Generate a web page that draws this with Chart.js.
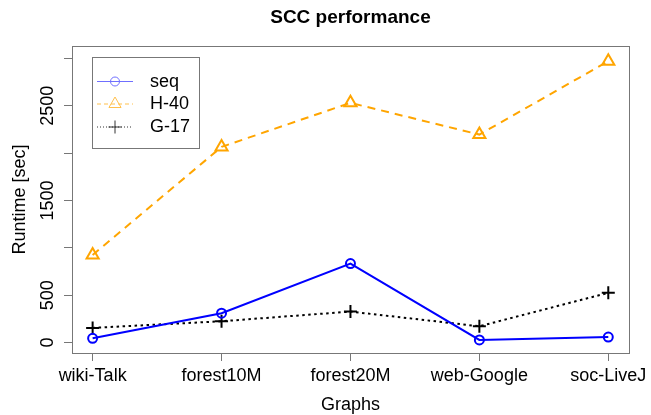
<!DOCTYPE html>
<html><head><meta charset="utf-8">
<script src="https://cdn.jsdelivr.net/npm/chart.js@4.4.1/dist/chart.umd.min.js"></script>
<style>html,body{margin:0;padding:0;background:#fff}#wrap{width:651px;height:415px}</style>
</head><body><div id="wrap"><canvas id="c" width="651" height="415"></canvas></div>
<script>
// SCC runtime (seconds) per input graph
const categories = ['wiki-Talk', 'forest10M', 'forest20M', 'web-Google', 'soc-LiveJ'];
const seqRuntime = [45, 310, 834, 28, 58];
const h40Runtime = [925, 2065, 2530, 2195, 2970];
const g17Runtime = [155, 225, 327, 172, 525];
const yTickValues = [0, 500, 1000, 1500, 2000, 2500, 3000];
const yTickLabels = ['0', '500', '', '1500', '', '2500', ''];
const seriesNames = ['seq', 'H-40', 'G-17'];

const FONT = '"Liberation Sans", Arial, Helvetica, sans-serif';
const AXIS_GRAY = '#777777';

function toPoints(values) {
  return values.map((v, i) => ({ x: i + 1, y: v }));
}

const styles = [
  { color: '#0000ff', dash: [], pointStyle: 'circle', radius: 4.5, legendColor: '#6f6fff' },
  { color: '#ffa500', dash: [8, 6], pointStyle: 'triangle', radius: 7, legendColor: '#ffc04d' },
  { color: '#000000', dash: [2.5, 3.5], pointStyle: 'cross', radius: 6.5, legendColor: '#333333' }
];
const seriesValues = [seqRuntime, h40Runtime, g17Runtime];

const datasets = seriesValues.map((vals, k) => ({
  label: seriesNames[k],
  data: toPoints(vals),
  borderColor: styles[k].color,
  backgroundColor: 'rgba(0,0,0,0)',
  borderWidth: 2,
  borderDash: styles[k].dash,
  pointStyle: styles[k].pointStyle,
  pointRadius: styles[k].radius,
  pointHoverRadius: styles[k].radius,
  pointBorderWidth: 2,
  pointBorderColor: styles[k].color,
  pointBackgroundColor: 'rgba(0,0,0,0)',
  tension: 0,
  fill: false
}));

// Frame, title, axis titles, rotated y labels and the legend box
const decorations = {
  id: 'decorations',
  afterDraw(chart) {
    const ctx = chart.ctx;
    const a = chart.chartArea;
    const yScale = chart.scales.y;
    ctx.save();
    // plot frame
    ctx.strokeStyle = AXIS_GRAY;
    ctx.lineWidth = 1;
    ctx.setLineDash([]);
    ctx.strokeRect(Math.round(a.left) + 0.5, Math.round(a.top) + 0.5,
      Math.round(a.right - a.left), Math.round(a.bottom - a.top));

    // title
    const cx = (a.left + a.right) / 2;
    ctx.fillStyle = '#000';
    ctx.textAlign = 'center';
    ctx.textBaseline = 'alphabetic';
    ctx.font = 'bold 19px ' + FONT;
    ctx.fillText('SCC performance', cx, 22.5);

    // x axis title
    ctx.font = '18px ' + FONT;
    ctx.fillText('Graphs', cx, 410);

    // y tick labels, rotated like the axis title
    yTickValues.forEach((v, i) => {
      const lbl = yTickLabels[i];
      if (!lbl) return;
      const py = yScale.getPixelForValue(v);
      ctx.save();
      ctx.translate(53, py);
      ctx.rotate(-Math.PI / 2);
      ctx.textAlign = 'center';
      ctx.fillText(lbl, 0, 0);
      ctx.restore();
    });

    // y axis title
    ctx.save();
    ctx.translate(25, (a.top + a.bottom) / 2);
    ctx.rotate(-Math.PI / 2);
    ctx.textAlign = 'center';
    ctx.fillText('Runtime [sec]', 0, 0);
    ctx.restore();

    // legend
    const lx = 92.5, ly = 57.5, lw = 107, lh = 91;
    ctx.strokeStyle = AXIS_GRAY;
    ctx.lineWidth = 1;
    ctx.strokeRect(lx, ly, lw, lh);
    const rowY = [81, 103.5, 126.5];
    seriesNames.forEach((name, k) => {
      const y = rowY[k];
      const st = styles[k];
      ctx.strokeStyle = st.legendColor;
      ctx.lineWidth = 1;
      ctx.setLineDash(k === 1 ? [4, 3] : (k === 2 ? [1, 2] : []));
      ctx.beginPath();
      ctx.moveTo(97, y + 0.5);
      ctx.lineTo(133, y + 0.5);
      ctx.stroke();
      ctx.setLineDash([]);
      ctx.fillStyle = 'rgba(0,0,0,0)';
      ctx.strokeStyle = st.legendColor;
      Chart.helpers.drawPoint(ctx, {
        pointStyle: st.pointStyle,
        radius: st.radius,
        rotation: 0,
        borderWidth: 1
      }, 115, y + 0.5);
      ctx.fillStyle = '#000';
      ctx.textAlign = 'left';
      ctx.textBaseline = 'middle';
      ctx.font = '18px ' + FONT;
      ctx.fillText(name, 150, y + 1);
    });
    ctx.restore();
  }
};

new Chart(document.getElementById('c'), {
  type: 'line',
  data: { datasets },
  plugins: [decorations],
  options: {
    responsive: false,
    animation: false,
    devicePixelRatio: 1,
    layout: { padding: { top: 46, right: 19, left: 0, bottom: 0 } },
    plugins: {
      legend: { display: false },
      title: { display: false },
      tooltip: { enabled: false }
    },
    scales: {
      x: {
        type: 'linear',
        min: 0.84,
        max: 5.16,
        afterBuildTicks(scale) {
          scale.ticks = categories.map((c, i) => ({ value: i + 1 }));
        },
        afterFit(scale) { scale.height = 62; },
        ticks: {
          callback: (v) => categories[v - 1] || '',
          font: { family: FONT, size: 18 },
          color: '#000',
          padding: 4,
          maxRotation: 0,
          autoSkip: false
        },
        grid: { drawOnChartArea: false, drawTicks: true, tickLength: 8, color: AXIS_GRAY, lineWidth: 1 },
        border: { display: false }
      },
      y: {
        type: 'linear',
        min: -110,
        max: 3130,
        afterBuildTicks(scale) {
          scale.ticks = yTickValues.map(v => ({ value: v }));
        },
        afterFit(scale) { scale.width = 72; },
        ticks: { display: false },
        grid: { drawOnChartArea: false, drawTicks: true, tickLength: 8, color: AXIS_GRAY, lineWidth: 1 },
        border: { display: false }
      }
    }
  }
});
</script>
</body></html>
